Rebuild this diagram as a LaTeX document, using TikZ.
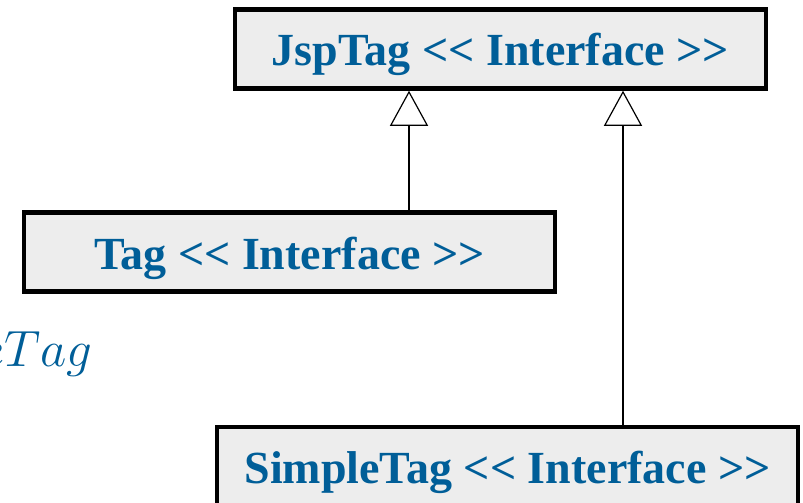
\documentclass[tikz,border=0pt]{standalone}
\usepackage{fix-cm}
\usepackage{fontspec}
\setmainfont{Liberation Serif}[Ligatures=TeXOff]
\usetikzlibrary{arrows.meta}
\pgfdeclarelayer{edgelayer}
\pgfdeclarelayer{nodelayer}
\pgfsetlayers{edgelayer,nodelayer,main}
\definecolor{ifaceblue}{RGB}{0,94,152}
\definecolor{boxgray}{RGB}{237,237,237}
\tikzstyle{none}=[inner sep=0pt]
\tikzstyle{iface}=[draw=black, line width=4.5pt, fill=boxgray, inner sep=0pt, minimum height=79pt, text height=34pt, text depth=0pt, text=ifaceblue, font=\fontsize{46}{54}\selectfont\bfseries]
\tikzstyle{realize}=[draw=black, line width=2pt, -{Triangle[open, width=38pt, length=35pt, line width=1.2pt]}]

\begin{document}
\begin{tikzpicture}[x=1pt, y=-1pt]
	\useasboundingbox (0, 0) rectangle (803, 503);
	\begin{pgfonlayer}{nodelayer}
		\node [style=iface, minimum width=531pt] (jsptag) at (500.5, 49) {JspTag << Interface >>};
		\node [style=iface, minimum width=531pt] (tag) at (289.5, 252) {Tag << Interface >>};
		\node [style=iface, minimum width=581pt] (simpletag) at (507.5, 466.5) {SimpleTag << Interface >>};
		\node [style=none, anchor=base east, text=ifaceblue, font=\fontsize{51}{60}\selectfont] (label) at (93, 366) {$eTag$};
		\node [style=none] (a1) at (409, 150) {};
		\node [style=none] (a2) at (623, 260) {};
	\end{pgfonlayer}
	\begin{pgfonlayer}{edgelayer}
		\draw [style=realize] (a1 |- tag.north) to (a1 |- jsptag.south);
		\draw [style=realize] (a2 |- simpletag.north) to (a2 |- jsptag.south);
	\end{pgfonlayer}
\end{tikzpicture}
\end{document}
